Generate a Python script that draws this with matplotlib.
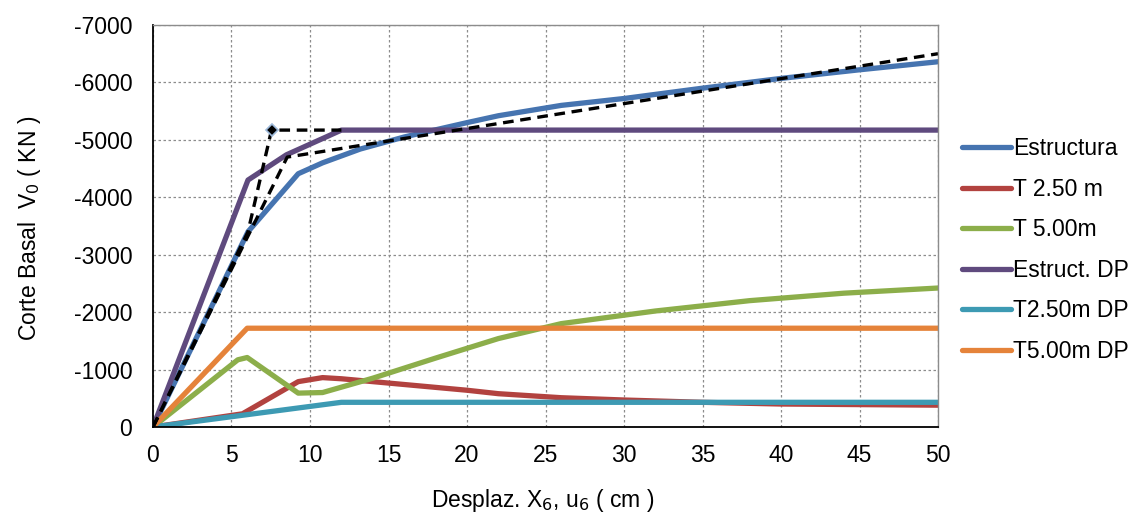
import matplotlib
matplotlib.use("Agg")
import matplotlib.pyplot as plt

plt.rcParams['font.family'] = ['Liberation Sans', 'DejaVu Sans']

# Capacity curves: displacement (cm) vs base shear (kN)
estructura_x = [0, 6.05, 9.25, 10.8, 13.2, 16, 20, 22, 26, 30, 35, 40, 45, 50]
estructura_y = [0, -3400, -4410, -4600, -4840, -5050, -5300, -5420, -5600, -5720, -5900, -6070, -6220, -6360]

t250_x = [0, 5.7, 9.25, 10.8, 12, 16, 20, 22, 26, 30, 35, 40, 50]
t250_y = [0, -230, -790, -860, -840, -740, -640, -580, -510, -470, -430, -400, -380]

t500_x = [0, 5.4, 6.0, 9.25, 10.8, 14, 18, 22, 26, 32, 38, 44, 50]
t500_y = [0, -1170, -1210, -590, -600, -850, -1200, -1540, -1800, -2020, -2200, -2330, -2420]

estruct_dp_x = [0, 6.05, 8.5, 12, 50]
estruct_dp_y = [0, -4300, -4740, -5170, -5170]

t250_dp_x = [0, 12, 50]
t250_dp_y = [0, -430, -430]

t500_dp_x = [0, 6, 50]
t500_dp_y = [0, -1720, -1720]

# Bilinear idealizations
bilin_x = [0, 8.55, 50]
bilin_y = [0, -4700, -6500]

bilin_dp_x = [0, 6.05, 7.55, 12]
bilin_dp_y = [0, -3400, -5170, -5170]

x_ticks = [0, 5, 10, 15, 20, 25, 30, 35, 40, 45, 50]
y_ticks = [0, -1000, -2000, -3000, -4000, -5000, -6000, -7000]

fig = plt.figure(figsize=(11.36, 5.16), dpi=100)
ax = fig.add_axes([153/1136, 1-427/516, (938-153)/1136, (427-25)/516])

lw = 3.8
series = [
    (estructura_x, estructura_y, '#4674B0', 'Estructura'),
    (t250_x, t250_y, '#B2423F', 'T 2.50 m'),
    (t500_x, t500_y, '#8CAE4A', 'T 5.00m'),
    (estruct_dp_x, estruct_dp_y, '#5F4A7E', 'Estruct. DP'),
    (t250_dp_x, t250_dp_y, '#3D9AB3', 'T2.50m DP'),
    (t500_dp_x, t500_dp_y, '#E5833A', 'T5.00m DP'),
]
for xs, ys, c, lab in series:
    ax.plot(xs, ys, color=c, lw=lw, label=lab, solid_capstyle='round',
            solid_joinstyle='round')

ax.plot(bilin_x, bilin_y, color='black', lw=2.4, ls=(0, (3.2, 2.0)))
ax.plot(bilin_dp_x, bilin_dp_y, color='black', lw=2.4, ls=(0, (3.2, 2.0)))
ax.plot([bilin_dp_x[2]], [bilin_dp_y[2]], marker='D', ms=6, mfc='black',
        mec='#9DB9DA', mew=1.2, ls='none')

ax.set_xlim(0, 50)
ax.set_ylim(0, -7000)
ax.set_xticks(x_ticks)
ax.set_yticks(y_ticks)
ax.set_yticklabels([str(v) for v in y_ticks])
ax.tick_params(length=0, labelsize=16.5)
ax.tick_params(axis='y', pad=15)
ax.tick_params(axis='x', pad=12)

ax.grid(True, color='#8C8C8C', ls=(0, (2, 2)), lw=0.9)
ax.set_axisbelow(True)
for side in ('top', 'right'):
    ax.spines[side].set_color('#8C8C8C')
    ax.spines[side].set_linestyle((0, (2, 1)))
    ax.spines[side].set_linewidth(1.0)
for side in ('left', 'bottom'):
    ax.spines[side].set_color('black')
    ax.spines[side].set_linewidth(1.3)

fig.text(30/1136, 1-228/516, r'Corte Basal  V$_0$ ( KN )', rotation=90,
         ha='center', va='center', fontsize=16.5)
fig.text(543/1136, 1-500/516, r'Desplaz. X$_6$, u$_6$ ( cm )',
         ha='center', va='center', fontsize=16.5)

handles, labels = ax.get_legend_handles_labels()
leg = fig.legend(handles, labels, loc='center left',
                 bbox_to_anchor=(941/1136, 1-250/516), frameon=False,
                 fontsize=16.5, handlelength=2.15, handletextpad=0.1,
                 labelspacing=0.77)

fig.savefig('out.png', dpi=100)
